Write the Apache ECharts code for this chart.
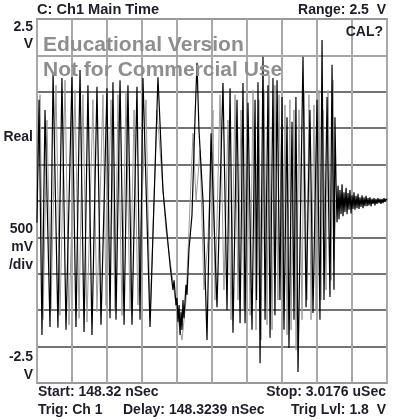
<!DOCTYPE html>
<html><head><meta charset="utf-8">
<script src="https://cdn.jsdelivr.net/npm/echarts@6/dist/echarts.min.js"></script>
<style>html,body{margin:0;padding:0;background:#fff}#c{width:395px;height:420px}</style>
</head><body><div id="c"></div>
<script>
// Time window (ns) and voltage range (V)
const timeStart = 148.32, timeStop = 3017.6;
const voltMin = -2.5, voltMax = 2.5, voltPerDiv = 0.5;

// Latest trace (black): time in ns, voltage in V
const blackTime = [148,165,189,214,255,280,320,353,386,435,468,501,534,566,599,640,673,722,747,771,
  796,829,862,894,927,968,993,1017,1075,1140,1181,
  1239,1263,1272,1288,1296,1304,1313,1321,1329,1337,1345,1353,1370,1378,1394,
  1419,1444,1460,1476,
  1509,1542,1575,1624,1673,1706,1731,1755,1788,1813,1837,1854,1878,1911,1936,1948,1960,1977,2001,2018,
  2042,2059,2083,2099,2116,2140,2157,2173,2198,2214,2239,2255,2271,2288,2329,2354,2386,2411,2444,2468,
  2485,2501,2526,2550,2567,2583,2591,
  2600,2608,2616,2624,2632,2641,2649,2657,2665,2673,2682,2690,2698,2706,2714,2723,2731,2739,2747,2755,
  2764,2772,2780,2788,2796,2805,2813,2821,2829,2837,2846,2854,2862,2870,2878,2887,2895,2903,2911,2919,
  2927,2936,2944,2952,2960,2968,2977,2985,2993,3001,3009,3018];
const blackVolt = [-0.30,1.39,-1.84,1.25,-1.73,1.77,-1.74,1.69,-1.77,1.70,-1.73,1.80,-1.80,1.59,-1.84,1.57,-1.70,1.55,-1.61,1.63,
  -1.63,1.66,-1.70,1.59,-1.70,1.57,-1.63,1.69,-1.73,1.70,0.15,
  -0.88,-1.22,-1.09,-1.43,-1.33,-1.66,-1.43,-1.84,-1.52,-1.77,-1.36,-1.61,-1.15,-1.29,-0.67,
  -0.19,1.15,1.90,0.98,
  0.01,-1.91,0.93,-1.46,1.62,-1.50,1.55,-1.81,1.39,-1.68,1.62,-1.68,1.35,-1.77,1.39,-1.36,1.63,-2.23,1.98,-1.63,
  1.59,-1.88,1.69,-1.57,1.66,-1.36,1.43,-1.77,1.15,-2.02,1.09,-1.63,1.43,-2.35,1.98,-1.46,1.25,-1.54,1.39,-1.63,
  2.21,-1.36,1.43,-1.32,1.87,-1.22,1.15,
  0.22,-0.29,0.21,-0.25,0.15,-0.18,0.23,-0.21,0.12,-0.15,0.18,-0.18,0.11,-0.12,0.15,-0.17,0.08,-0.11,0.12,-0.12,
  0.07,-0.10,0.10,-0.11,0.05,-0.08,0.08,-0.10,0.05,-0.07,0.07,-0.07,0.04,-0.06,0.05,-0.07,0.03,-0.04,0.04,-0.06,
  0.03,-0.04,0.04,-0.03,0.03,-0.04,0.03,-0.03,0.04,-0.01,0.03,0.01];

// Persistence trace (gray)
const grayTime = [148,173,198,230,263,304,337,378,411,460,493,525,558,607,640,689,714,755,788,812,
  845,878,911,944,976,1042,1075,1132,1206,1304,1337,1370,1427,1452,1485,1517,1550,1591,1608,1649,
  1681,1714,1739,1772,1796,1821,1845,1870,1895,1919,1944,1968,1985,2009,2034,2050,2075,2099,2124,2132,
  2165,2181,2198,2222,2231,2255,2272,2296,2321,2337,2362,2378,2395,2419,2436,2460,2477,2493,2518,2534,
  2559,2575,2583,2600];
const grayVolt = [0.01,1.46,-1.63,1.11,-1.50,1.59,-1.57,1.66,-1.70,1.52,-1.61,1.46,-1.66,1.39,-1.52,1.46,-1.43,1.39,-1.50,1.46,
  -1.57,1.50,-1.50,1.25,-1.43,1.39,-1.61,1.25,-0.40,-1.63,-1.91,-1.36,0.93,0.01,0.70,-1.22,-0.54,1.25,-1.36,1.46,
  -1.22,1.11,-1.63,1.46,-1.36,1.25,-1.50,1.46,-1.57,1.52,-1.77,1.39,-1.91,1.52,-1.70,1.73,-1.77,1.59,-1.36,1.46,
  -1.63,1.32,-1.84,1.39,-1.77,1.25,-2.05,1.25,-1.63,1.52,-1.36,1.46,-1.63,1.32,-1.50,1.52,-1.36,1.25,-1.22,1.52,
  -1.09,1.66,-0.81,0.01];

// Texts
const titleLeft = 'C: Ch1 Main Time';
const titleRight = 'Range: 2.5  V';
const calText = 'CAL?';
const sideLabels = ['2.5', 'V', 'Real', '500', 'mV', '/div', '-2.5', 'V'];
const footer1Left = 'Start: 148.32 nSec';
const footer1Right = 'Stop: 3.0176 uSec';
const footer2 = ['Trig: Ch 1', 'Delay: 148.3239 nSec', 'Trig Lvl: 1.8  V'];
const watermark = ['Educational Version', 'Not for Commercial Use'];

const zip = (a, b) => a.map((v, i) => [v, b[i]]);
const FONT = 'bold 14px "Liberation Sans", Arial, sans-serif';
const FONT_T = 'bold 14.6px "Liberation Sans", Arial, sans-serif';
const INK = '#1e1e2a';
function txt(s, x, y, align, font, fill, z) {
  return {type:'text', x:x, y:y, z:z||10, silent:true,
    style:{text:s, font:font||FONT, fill:fill||INK, align:align||'left', verticalAlign:'middle',
      textAlign:align||'left', textVerticalAlign:'middle'}};
}
const sideY = [27, 44, 137, 229, 247, 265, 357, 375];
const graphics = [
  txt(titleLeft, 37, 10, 'left', FONT_T),
  txt(titleRight, 386, 10, 'right'),
  txt(calText, 383, 32, 'right'),
  txt(footer1Left, 38, 392, 'left'),
  txt(footer1Right, 386, 392, 'right'),
  txt(footer2[0], 38, 410, 'left'),
  txt(footer2[1], 123, 410, 'left'),
  txt(footer2[2], 386, 410, 'right')
];
sideLabels.forEach((s, i) => graphics.push(txt(s, 33, sideY[i], 'right')));
const WM = 'bold 21px "Liberation Sans", Arial, sans-serif';
graphics.push(txt(watermark[0], 43, 45, 'left', WM, '#8e8e8e', 100));
graphics.push(txt(watermark[1], 43, 70, 'left', WM, '#8e8e8e', 100));

const hColors = ['#999','#444','#444','#444','#444','#444','#444','#444','#444','#888','#999'];

const chart = echarts.init(document.getElementById('c'), null, {renderer:'canvas'});
chart.setOption({
  animation:false,
  backgroundColor:'#fff',
  grid:{left:37, right:8, top:19, bottom:37, show:true, borderColor:'#999', borderWidth:2, backgroundColor:'#fff'},
  xAxis:[
    {type:'value', min:timeStart, max:timeStop, show:false},
    {type:'value', min:0, max:10, interval:1, axisLine:{show:false}, axisTick:{show:false}, axisLabel:{show:false},
     splitLine:{show:true, lineStyle:{color:'#a8a8a8', width:2}}}
  ],
  yAxis:{type:'value', min:voltMin, max:voltMax, interval:voltPerDiv, axisLine:{show:false}, axisTick:{show:false},
    axisLabel:{show:false}, splitLine:{show:true, lineStyle:{color:hColors, width:1.5}}},
  series:[
    {type:'line', xAxisIndex:0, yAxisIndex:0, data:zip(grayTime, grayVolt), symbol:'none', z:2,
     lineStyle:{color:'#9a9a9a', width:1}},
    {type:'line', xAxisIndex:0, yAxisIndex:0, data:zip(blackTime, blackVolt), symbol:'none', z:3,
     lineStyle:{color:'#000', width:1.2}}
  ],
  graphic:graphics
});
</script></body></html>
